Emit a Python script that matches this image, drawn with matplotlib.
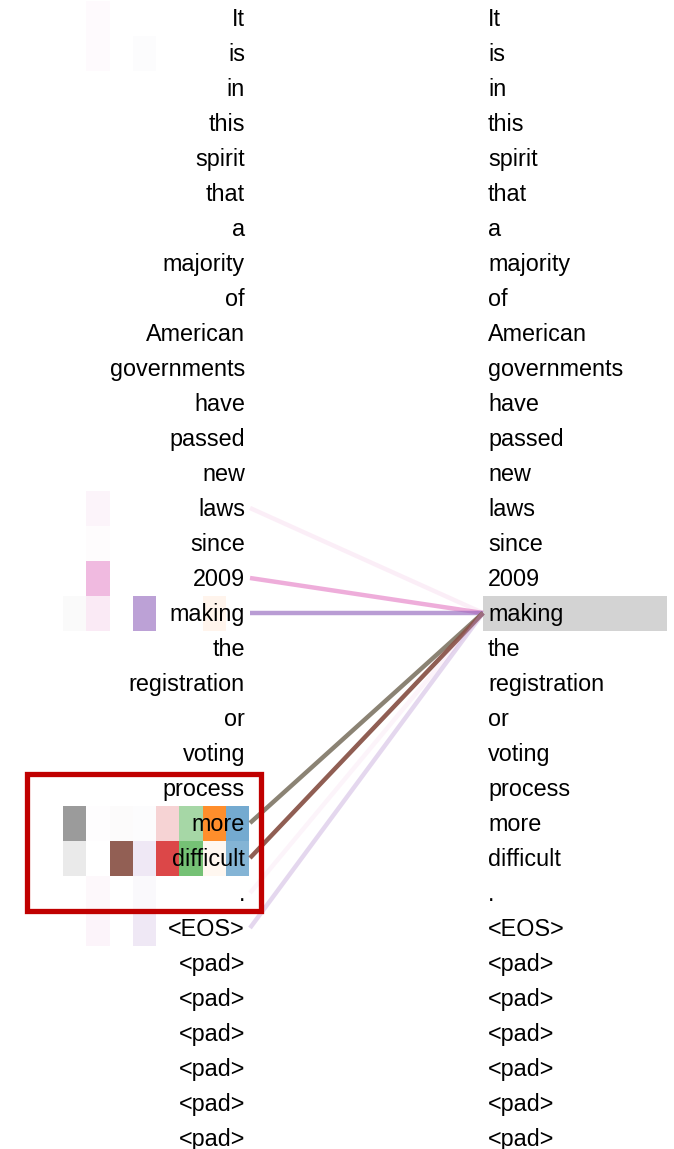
"""
Attention view: heads of one layer for the query token "making".
"""

import matplotlib.pyplot as plt
from matplotlib.patches import Rectangle

tokens = ["It", "is", "in", "this", "spirit", "that", "a", "majority", "of",
          "American", "governments", "have", "passed", "new", "laws", "since",
          "2009", "making", "the", "registration", "or", "voting", "process",
          "more", "difficult", ".", "<EOS>", "<pad>", "<pad>", "<pad>", "<pad>",
          "<pad>", "<pad>"]
query = 17

head_colors = ["#7f7f7f", "#e377c2", "#8c564b", "#9467bd",
               "#d62728", "#2ca02c", "#ff7f0e", "#1f77b4"]

# attention of each head towards key rows (row index -> weights per head)
head_attn = {
    0:  [0.00, 0.03, 0.00, 0.00, 0.00, 0.00, 0.00, 0.00],
    1:  [0.00, 0.03, 0.00, 0.02, 0.00, 0.00, 0.00, 0.00],
    14: [0.00, 0.08, 0.00, 0.00, 0.00, 0.00, 0.00, 0.00],
    15: [0.00, 0.02, 0.00, 0.00, 0.00, 0.00, 0.00, 0.00],
    16: [0.00, 0.50, 0.00, 0.00, 0.00, 0.00, 0.00, 0.00],
    17: [0.03, 0.15, 0.00, 0.62, 0.00, 0.00, 0.08, 0.00],
    23: [0.78, 0.01, 0.02, 0.02, 0.20, 0.42, 0.88, 0.62],
    24: [0.16, 0.00, 0.95, 0.15, 0.85, 0.65, 0.06, 0.55],
    25: [0.00, 0.05, 0.00, 0.04, 0.00, 0.00, 0.00, 0.00],
    26: [0.00, 0.08, 0.00, 0.15, 0.00, 0.00, 0.00, 0.00],
}

# lines from key token to the query token
line_rows = [14, 16, 17, 23, 24, 25, 26]
line_colors = ["#e377c2", "#e377c2", "#9467bd", "#857c6c", "#8a554a", "#e377c2", "#b48fd0"]
line_alpha = [0.12, 0.6, 0.65, 0.95, 0.95, 0.08, 0.35]

W, H = 674, 1149
row_h = 35
first_center = 18


def main():
    fig = plt.figure(figsize=(W / 100, H / 100), dpi=100)
    ax = fig.add_axes([0, 0, 1, 1])
    ax.set_xlim(0, W)
    top = -first_center / row_h
    ax.set_ylim(top + H / row_h, top)
    ax.axis("off")

    # head cells
    cell_x0, cell_w = 63, 23.25
    for row, weights in head_attn.items():
        for h, a in enumerate(weights):
            if a <= 0:
                continue
            ax.add_patch(Rectangle((cell_x0 + h * cell_w, row - 0.5), cell_w, 1,
                                   facecolor=head_colors[h], alpha=a, lw=0, zorder=1))

    # highlight of the query token on the right
    ax.add_patch(Rectangle((483, query - 0.5), 184, 1, facecolor="#d3d3d3", lw=0, zorder=1))

    for row, c, a in zip(line_rows, line_colors, line_alpha):
        ax.plot([250, 483], [row, query], color=c, alpha=a, lw=3.2,
                solid_capstyle="butt", zorder=2)

    font = dict(fontsize=16.8, family=["Liberation Sans", "DejaVu Sans"], color="black")
    for i, tok in enumerate(tokens):
        ax.text(245, i + 0.05, tok, ha="right", va="center", zorder=3, **font)
        ax.text(488, i + 0.05, tok, ha="left", va="center", zorder=3, **font)

    # red box around "more" / "difficult"
    ax.add_patch(Rectangle((26.5, 21.6), 234.5, 3.92, fill=False, edgecolor="#c00000",
                           lw=3.8, zorder=4))

    fig.savefig("out.png", dpi=100)


if __name__ == "__main__":
    main()
